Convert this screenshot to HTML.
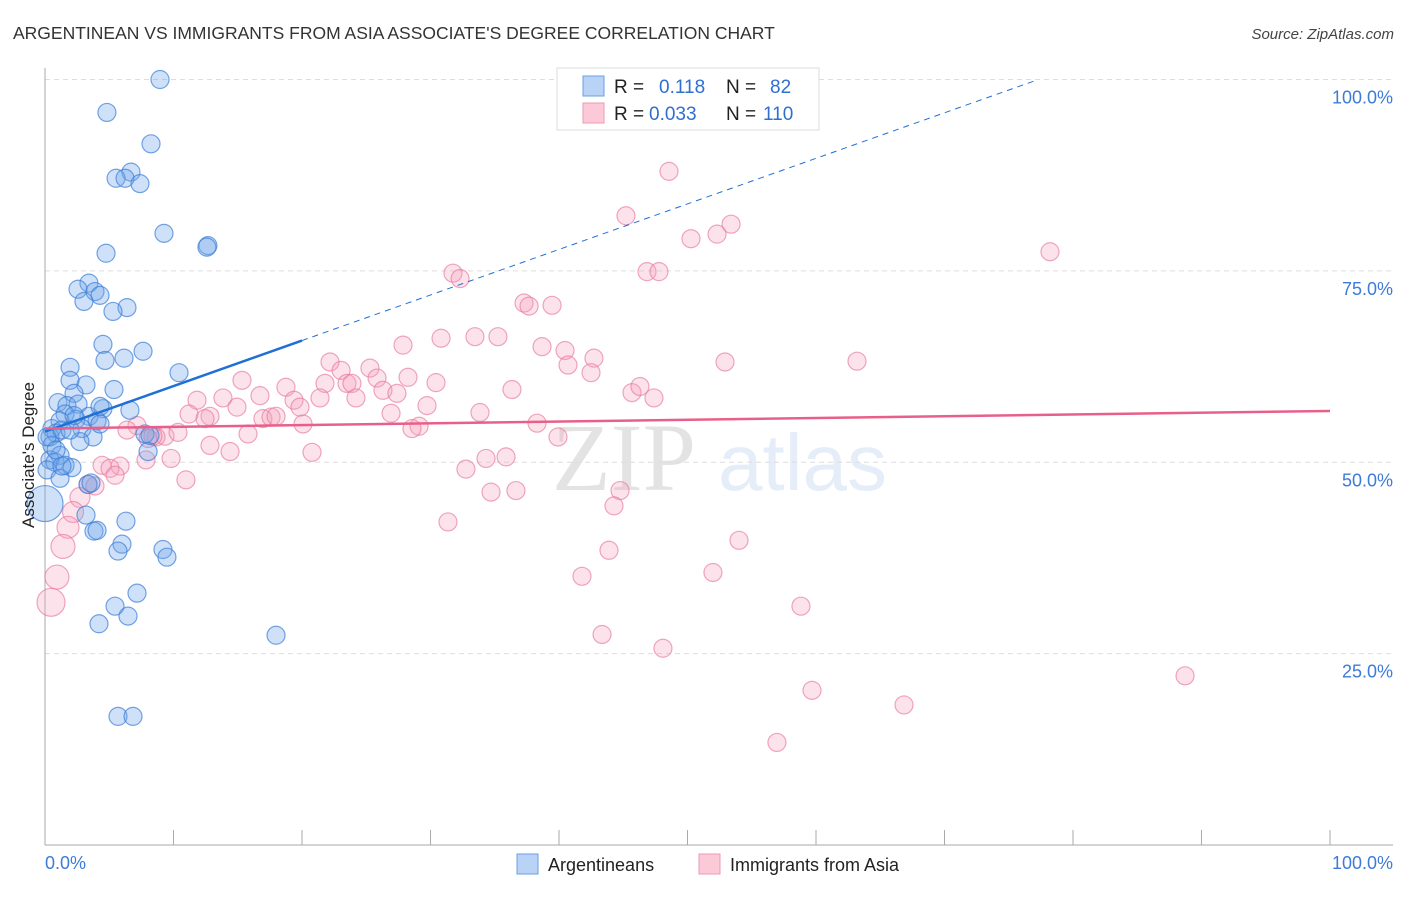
<!DOCTYPE html>
<html><head><meta charset="utf-8"><style>
body{margin:0;background:#fff;width:1406px;height:892px;overflow:hidden;font-family:"Liberation Sans",sans-serif}
</style></head><body>
<svg id="chart" width="1406" height="892" xmlns="http://www.w3.org/2000/svg" font-family="Liberation Sans, sans-serif">
<text x="13" y="39" font-size="17.5" fill="#333">ARGENTINEAN VS IMMIGRANTS FROM ASIA ASSOCIATE'S DEGREE CORRELATION CHART</text>
<text x="1394" y="39" font-size="15" fill="#444" font-style="italic" text-anchor="end">Source: ZipAtlas.com</text>
<g opacity="0.13">
<text x="552" y="490" font-size="96" font-family="Liberation Serif, serif" fill="#333">ZIP</text>
<text x="718" y="490" font-size="80" fill="#3d7bd9">atlas</text>
</g>
<g id="grid"></g>
<g id="axes"></g>
<g id="pts"></g>
<g id="trends"></g>
<text transform="translate(34,455) rotate(-90)" font-size="17" fill="#222" text-anchor="middle">Associate's Degree</text>
<g>
<rect x="557" y="68" width="262" height="62" fill="#fff" stroke="#ddd"/>
<rect x="583" y="76" width="21" height="20" fill="#b8d3f5" stroke="#6a9fe0"/>
<rect x="583" y="103" width="21" height="20" fill="#fcc9d8" stroke="#ee9ab4"/>
<text x="614" y="93" font-size="19" fill="#222">R =</text>
<text x="659" y="93" font-size="19" fill="#2f6fd0">0.118</text>
<text x="726" y="93" font-size="19" fill="#222">N =</text>
<text x="770" y="93" font-size="19" fill="#2f6fd0">82</text>
<text x="614" y="120" font-size="19" fill="#222">R =</text>
<text x="649" y="120" font-size="19" fill="#2f6fd0">0.033</text>
<text x="726" y="120" font-size="19" fill="#222">N =</text>
<text x="763" y="120" font-size="19" fill="#2f6fd0">110</text>
</g>
<g>
<rect x="517" y="854" width="21" height="20" fill="#b8d3f5" stroke="#6a9fe0"/>
<text x="548" y="871" font-size="18" fill="#222">Argentineans</text>
<rect x="699" y="854" width="21" height="20" fill="#fcc9d8" stroke="#ee9ab4"/>
<text x="730" y="871" font-size="18" fill="#222">Immigrants from Asia</text>
</g>
</svg>
<script>
const blueX=[8.95,4.82,8.25,6.69,5.53,6.23,7.39,9.26,12.68,12.6,4.75,3.42,2.57,3.89,4.28,3.03,6.38,5.29,4.51,7.63,6.15,4.67,10.43,1.95,1.95,3.19,5.37,2.26,1.01,1.71,2.57,4.51,6.61,1.56,3.42,2.41,4.05,1.17,0.54,0.86,2.88,0.39,3.74,2.72,7.78,8.17,0.54,1.17,0.39,0.78,1.56,2.10,0.16,1.17,3.35,3.19,3.81,4.05,6.30,5.99,5.68,9.18,9.49,7.16,5.45,6.46,4.20,17.98,5.68,6.85,8.02,0.0,0.16,1.32,1.95,0.86,1.32,2.26,4.28,3.58,4.28];
const blueY=[100.0,95.7,91.6,87.9,87.1,87.1,86.4,79.9,78.3,78.1,77.3,73.4,72.6,72.3,71.8,71.0,70.2,69.7,65.4,64.5,63.6,63.3,61.7,62.4,60.7,60.1,59.5,59.0,57.8,57.4,57.6,57.0,56.8,56.3,56.0,55.6,55.4,55.4,54.4,53.8,54.4,53.3,53.3,52.7,53.7,53.5,52.2,50.9,50.3,50.0,49.6,49.3,49.0,47.9,47.1,43.1,41.0,41.1,42.3,39.3,38.4,38.6,37.6,32.9,31.2,29.9,28.9,27.4,16.8,16.8,51.4,44.6,53.3,54.2,54.2,51.6,49.5,56.1,57.3,47.3,55.0];
const pinkX=[48.56,45.21,53.39,52.30,50.27,78.21,31.75,32.30,46.85,47.78,37.28,37.67,39.46,30.82,33.46,35.25,27.86,38.68,40.47,42.72,40.70,42.49,52.92,63.19,22.18,23.04,25.29,15.33,28.25,30.43,23.50,21.79,23.89,25.84,26.30,36.34,45.68,46.30,47.39,16.73,18.75,27.39,24.20,19.38,13.85,11.83,19.84,29.73,21.40,14.94,33.85,12.84,11.21,12.45,16.96,26.93,17.59,17.98,20.08,29.11,28.56,7.16,6.38,38.29,9.34,8.64,10.35,15.80,12.84,14.40,39.92,20.78,9.81,7.86,4.44,5.84,5.06,32.76,34.32,35.88,5.45,10.97,3.35,3.89,44.75,34.71,36.65,2.72,44.28,2.18,31.36,1.79,54.01,1.40,43.89,41.79,51.98,0.93,58.83,0.47,43.35,48.09,59.69,66.85,88.72,56.96,8.02,8.40];
const pinkY=[88.0,82.2,81.1,79.8,79.2,77.5,74.7,74.0,74.9,74.9,70.8,70.4,70.5,66.2,66.4,66.4,65.3,65.1,64.6,63.6,62.7,61.7,63.1,63.2,63.1,62.0,62.3,60.7,61.1,60.4,60.3,60.3,60.3,61.0,59.4,59.5,59.1,59.9,58.4,58.7,59.8,59.0,58.4,58.1,58.4,58.1,57.2,57.4,58.4,57.2,56.5,56.0,56.3,55.7,55.7,56.4,55.9,56.0,55.0,54.7,54.4,54.8,54.2,55.1,53.4,53.3,53.9,53.7,52.2,51.4,53.3,51.3,50.5,50.3,49.6,49.5,49.2,49.1,50.5,50.7,48.3,47.7,47.1,46.9,46.3,46.1,46.3,45.4,44.3,43.5,42.2,41.5,39.8,39.0,38.5,35.1,35.6,35.0,31.2,31.7,27.5,25.7,20.2,18.3,22.1,13.4,53.1,53.4];
const blueTrend=[54.0,0.595];
const pinkTrend=[54.4,0.023];
const yTicks=[25,50,75,100];
const yTickLabels=["25.0%","50.0%","75.0%","100.0%"];
const xTicks=[0,10,20,30,40,50,60,70,80,90,100];

const NS="http://www.w3.org/2000/svg";
const X0=45,X1=1330,Y0=845,Y1=79.5;
const sx=v=>X0+(X1-X0)*v/100;
const sy=v=>Y0-(Y0-Y1)*v/100;
function mk(tag,attrs,parent){const e=document.createElementNS(NS,tag);for(const k in attrs)e.setAttribute(k,attrs[k]);parent.appendChild(e);return e;}
const grid=document.getElementById('grid'),axes=document.getElementById('axes'),pts=document.getElementById('pts'),tr=document.getElementById('trends');
yTicks.forEach((t,i)=>{
  const l=mk('line',{x1:X0,x2:1393,y1:sy(t),y2:sy(t),stroke:'#ddd','stroke-dasharray':'5,4'},grid);
  
  
  const tx=mk('text',{x:1393,y:sy(t)+24,'font-size':18,fill:'#3d7bd9','text-anchor':'end'},axes);
  tx.textContent=yTickLabels[i];
  
  
});
mk('line',{x1:X0,x2:X0,y1:68,y2:Y0,stroke:'#aaa'},axes);
mk('line',{x1:X0,x2:1393,y1:Y0,y2:Y0,stroke:'#aaa'},axes);
xTicks.forEach(t=>{
  const l=mk('line',{x1:sx(t),x2:sx(t),y1:Y0-15,y2:Y0,stroke:'#aaa'},axes);
  
  
});
const xl0=mk('text',{x:X0,y:869,'font-size':18,fill:'#3d7bd9'},axes);xl0.textContent='0.0%';


const xl1=mk('text',{x:1393,y:869,'font-size':18,fill:'#3d7bd9','text-anchor':'end'},axes);xl1.textContent='100.0%';



const pinkBig={99:14,97:12,93:12,91:11,89:10.5,87:10};
pinkX.forEach((v,i)=>{
  const c=mk('circle',{cx:sx(v),cy:sy(pinkY[i]),r:pinkBig[i]||9,fill:'rgba(244,160,188,0.3)',stroke:'rgba(232,120,156,0.65)','stroke-width':1.2},pts);
  
  
});
blueX.forEach((v,i)=>{
  const c=mk('circle',{cx:sx(v),cy:sy(blueY[i]),r:i===71?18:9,fill:'rgba(110,165,235,0.33)',stroke:'rgba(60,125,215,0.7)','stroke-width':1.2},pts);
  
  
});
const bt=v=>blueTrend[0]+blueTrend[1]*v, pt=v=>pinkTrend[0]+pinkTrend[1]*v;
const b1=mk('line',{x1:sx(0),y1:sy(bt(0)),x2:sx(20),y2:sy(bt(20)),stroke:'#1f6fd6','stroke-width':2.5},tr);


const b2=mk('line',{x1:sx(20),y1:sy(bt(20)),x2:sx(77.1),y2:sy(bt(77.1)),stroke:'#1f6fd6','stroke-width':1,'stroke-dasharray':'6,5'},tr);


const p1=mk('line',{x1:sx(0),y1:sy(pt(0)),x2:sx(100),y2:sy(pt(100)),stroke:'#e8608a','stroke-width':2.5},tr);


</script>
</body></html>
